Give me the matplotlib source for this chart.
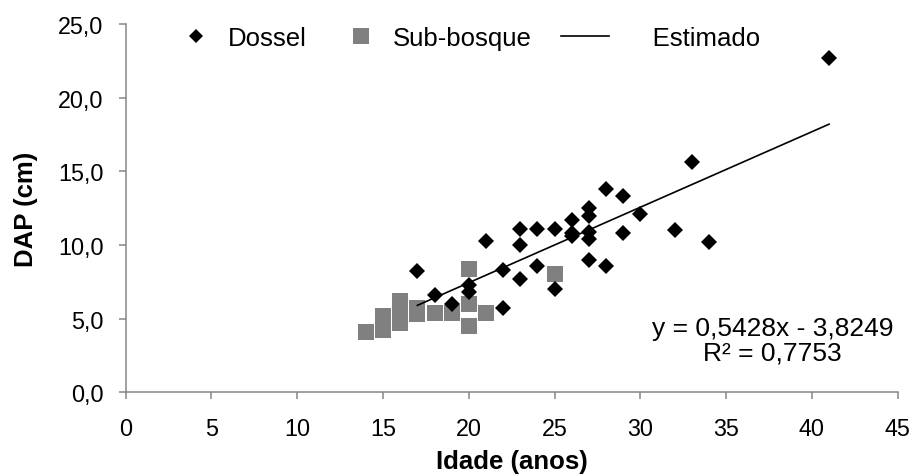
import matplotlib
matplotlib.use("Agg")
import matplotlib.pyplot as plt
from matplotlib.lines import Line2D

plt.rcParams['font.family'] = ['Liberation Sans', 'DejaVu Sans']

# ---- data ----
dossel_x = [17, 18, 19, 20, 20, 21, 22, 22, 23, 23, 23, 24, 24, 25, 25,
            26, 26, 26, 27, 27, 27, 27, 27, 28, 28, 29, 29, 30, 32, 33, 34, 41]
dossel_y = [8.2, 6.6, 6.0, 7.3, 6.8, 10.3, 8.3, 5.7, 11.1, 10.0, 7.7, 11.1, 8.6, 11.1, 7.0,
            11.7, 10.8, 10.6, 12.5, 12.0, 10.9, 10.4, 9.0, 13.8, 8.6, 13.3, 10.8, 12.1, 11.0, 15.6, 10.2, 22.7]

sub_x = [14, 15, 15, 16, 16, 16, 17, 17, 18, 19, 20, 20, 20, 21, 25]
sub_y = [4.1, 5.2, 4.2, 6.2, 5.5, 4.7, 5.7, 5.3, 5.4, 5.4, 8.4, 6.0, 4.5, 5.4, 8.0]

est_x = [17, 41]
est_y = [5.9, 18.2]

x_ticks = [0, 5, 10, 15, 20, 25, 30, 35, 40, 45]
x_ticklabels = ['0', '5', '10', '15', '20', '25', '30', '35', '40', '45']
y_ticks = [0, 5, 10, 15, 20, 25]
y_ticklabels = ['0,0', '5,0', '10,0', '15,0', '20,0', '25,0']

series_labels = ['Dossel', 'Sub-bosque', '     Estimado']
equation_text = 'y = 0,5428x - 3,8249\nR² = 0,7753'
x_label = 'Idade (anos)'
y_label = 'DAP (cm)'

# ---- figure ----
fig = plt.figure(figsize=(9.15, 4.77), dpi=100)
ax = fig.add_axes([0.1374, 0.1755, 0.8437, 0.7721])

ax.plot(sub_x, sub_y, linestyle='none', marker='s', markersize=12,
        markeredgewidth=0, color='#808080', label=series_labels[1], zorder=2)
ax.plot(dossel_x, dossel_y, linestyle='none', marker='D', markersize=7.8,
        markeredgewidth=0, color='black', label=series_labels[0], zorder=3)
ax.plot(est_x, est_y, color='black', linewidth=1.2, label=series_labels[2], zorder=4)

ax.set_xlim(0, 45)
ax.set_ylim(0, 25)
ax.set_xticks(x_ticks)
ax.set_xticklabels(x_ticklabels)
ax.set_yticks(y_ticks)
ax.set_yticklabels(y_ticklabels)

for s in ['top', 'right']:
    ax.spines[s].set_visible(False)
for s in ['left', 'bottom']:
    ax.spines[s].set_color('#868686')
    ax.spines[s].set_linewidth(1.1)

ax.tick_params(axis='both', direction='out', length=5, width=1.1, color='#868686',
               labelsize=16.8, labelcolor='black')
ax.tick_params(axis='y', pad=11)
ax.tick_params(axis='x', pad=13)

ax.set_xlabel(x_label, fontsize=18.5, fontweight='bold', labelpad=6)
ax.set_ylabel(y_label, fontsize=18.5, fontweight='bold', labelpad=14)

# legend
handles = [
    Line2D([], [], linestyle='none', marker='D', markersize=7, markeredgewidth=0, color='black'),
    Line2D([], [], linestyle='none', marker='s', markersize=12, markeredgewidth=0, color='#808080'),
    Line2D([], [], color='black', linewidth=1.2),
]
ax.legend(handles, series_labels, loc='center left', bbox_to_anchor=(0.06, 0.962),
          ncol=3, frameon=False, fontsize=18.5, handlelength=1.88, handletextpad=0.3,
          columnspacing=1.15, borderpad=0, borderaxespad=0)

ax.text(772.5 / 915, 1 - 341.5 / 477, equation_text, transform=fig.transFigure,
        ha='center', va='center', fontsize=19, linespacing=1.05)

fig.savefig('out.png', dpi=100)
